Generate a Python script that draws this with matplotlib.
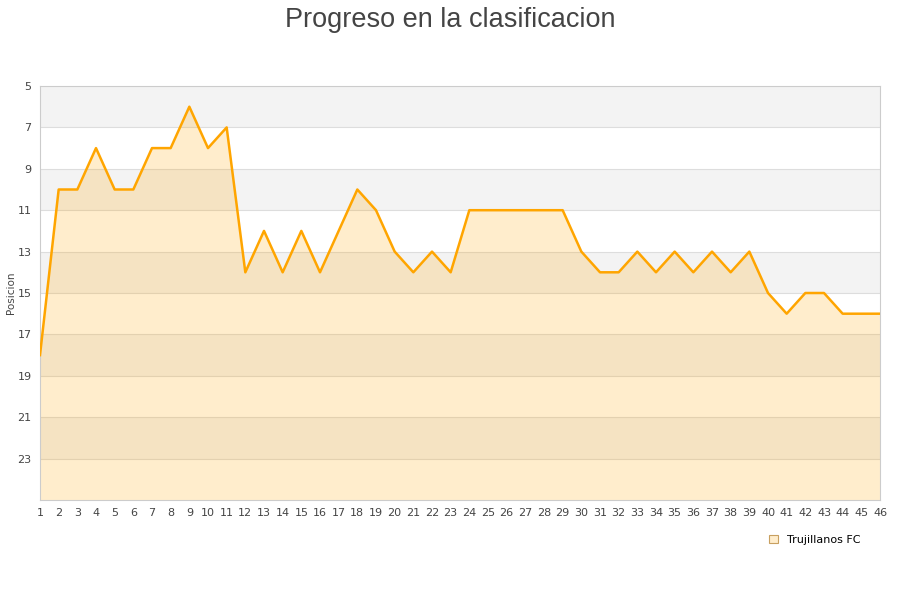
import matplotlib
matplotlib.use("Agg")
import matplotlib.pyplot as plt
from matplotlib.patches import Patch

# Jornadas y posicion
jornadas = list(range(1, 47))
posicion = [18, 10, 10, 8, 10, 10, 8, 8, 6, 8,
            7, 14, 12, 14, 12, 14, 12, 10, 11, 13,
            14, 13, 14, 11, 11, 11, 11, 11, 11, 13,
            14, 14, 13, 14, 13, 14, 13, 14, 13, 15,
            16, 15, 15, 16, 16, 16]
y_ticks = [5, 7, 9, 11, 13, 15, 17, 19, 21, 23]
equipo = 'Trujillanos FC'

fig = plt.figure(figsize=(9, 6), dpi=100)
ax = fig.add_axes([40 / 900, 100 / 600, 840 / 900, 414 / 600])

# bandas alternas
for i, lo in enumerate(range(5, 25, 2)):
    ax.axhspan(lo, lo + 2, color='#f3f3f3' if i % 2 == 0 else 'white', zorder=0, lw=0)
for t in y_ticks[1:]:
    ax.axhline(t, color='#dddddd', lw=0.8, zorder=1)

ax.fill_between(jornadas, posicion, 25, color='#ffa500', alpha=0.2, lw=0, zorder=2)
ax.plot(jornadas, posicion, color='#ffa500', lw=1.8, zorder=3)

ax.set_xlim(1, 46)
ax.set_ylim(25, 5)
ax.set_yticks(y_ticks)
ax.set_xticks(jornadas)
ax.tick_params(length=0, labelsize=8, colors='#444444', pad=6)
for s in ax.spines.values():
    s.set_color('#cccccc')
ax.set_ylabel('Posicion', fontsize=7.5, color='#444444')
ax.yaxis.set_label_coords(-24 / 840, 0.5)

fig.text(0.5, 1 - 27 / 600, 'Progreso en la clasificacion', ha='center', va='baseline',
         fontsize=19.5, color='#444444', family='Liberation Sans')

handle = Patch(facecolor='#ffedcc', edgecolor='#c8a060', lw=0.8)
fig.legend([handle], [equipo], loc='center', bbox_to_anchor=(815 / 900, 1 - 540 / 600),
           frameon=False, fontsize=8, handlelength=0.8, handleheight=0.8, handletextpad=0.8)

fig.savefig('out.png', dpi=100)
